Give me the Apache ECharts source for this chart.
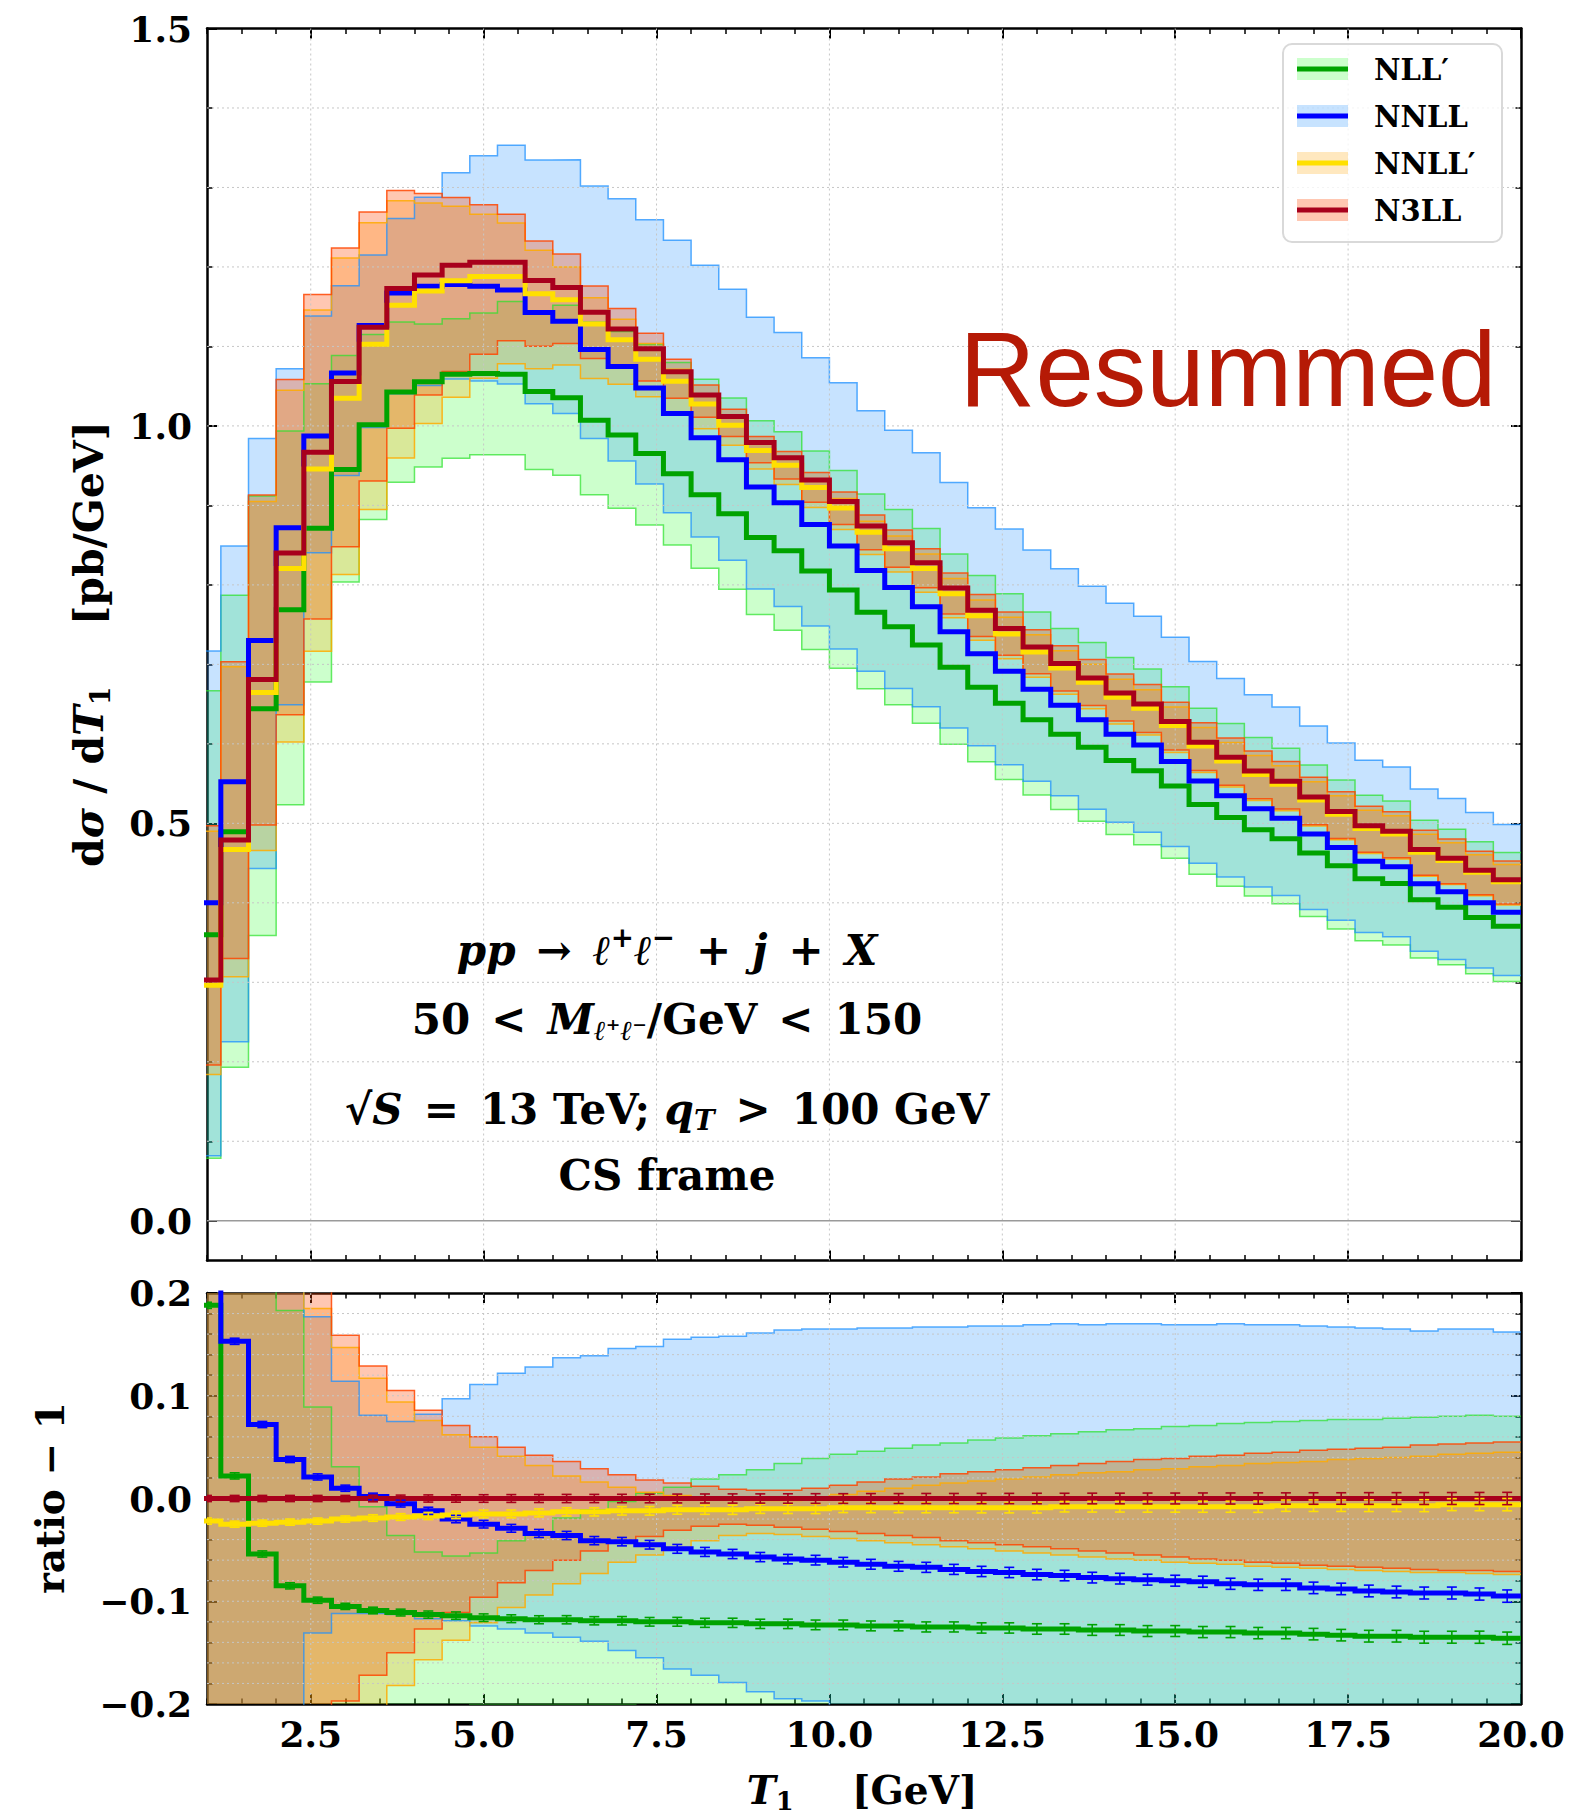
<!DOCTYPE html>
<html>
<head>
<meta charset="utf-8">
<title>Resummed T1 distribution</title>
<script src="https://cdn.jsdelivr.net/npm/echarts@6.0.0/dist/echarts.min.js"></script>
<style>
html,body{margin:0;padding:0;background:#ffffff;}
#chart{width:1573px;height:1820px;}
</style>
</head>
<body>
<div id="chart"></div>
<script>
// ================= DATA =================
// bin edges of the T1 histogram [GeV]
const binEdges = [0.8, 1.2, 1.6, 2.0, 2.4, 2.8, 3.2, 3.6, 4.0, 4.4, 4.8, 5.2, 5.6, 6.0, 6.4, 6.8,
  7.2, 7.6, 8.0, 8.4, 8.8, 9.2, 9.6, 10.0, 10.4, 10.8, 11.2, 11.6, 12.0, 12.4, 12.8, 13.2,
  13.6, 14.0, 14.4, 14.8, 15.2, 15.6, 16.0, 16.4, 16.8, 17.2, 17.6, 18.0, 18.4, 18.8, 19.2, 19.6, 20.0];

// N3LL central value dsigma/dT1 [pb/GeV] (reference of the ratio panel)
const n3llCentral = [0.303, 0.479, 0.681, 0.840, 0.967, 1.056, 1.124, 1.173, 1.190, 1.202,
  1.206, 1.206, 1.183, 1.174, 1.143, 1.122, 1.097, 1.068, 1.039, 1.012,
  0.979, 0.960, 0.932, 0.905, 0.874, 0.853, 0.828, 0.796, 0.768, 0.745,
  0.722, 0.701, 0.683, 0.664, 0.650, 0.628, 0.602, 0.583, 0.566, 0.553,
  0.533, 0.515, 0.497, 0.490, 0.467, 0.456, 0.441, 0.429];

// ratio - 1 (w.r.t. N3LL central), central values and band edges
const nllpRatio = [0.188, 0.022, -0.054, -0.085, -0.099, -0.105, -0.109, -0.111, -0.113, -0.114,
  -0.116, -0.117, -0.118, -0.118, -0.119, -0.119, -0.120, -0.120, -0.121, -0.121,
  -0.122, -0.122, -0.123, -0.123, -0.124, -0.124, -0.125, -0.125, -0.126, -0.126,
  -0.127, -0.127, -0.128, -0.128, -0.129, -0.129, -0.130, -0.130, -0.131, -0.131,
  -0.132, -0.133, -0.134, -0.134, -0.135, -0.135, -0.135, -0.136];
const nllpLo = [-0.740, -0.597, -0.473, -0.377, -0.299, -0.239, -0.215, -0.208, -0.203, -0.202,
  -0.201, -0.201, -0.201, -0.201, -0.201, -0.201, -0.202, -0.204, -0.210, -0.215,
  -0.221, -0.226, -0.229, -0.232, -0.234, -0.239, -0.244, -0.247, -0.248, -0.255,
  -0.258, -0.262, -0.264, -0.268, -0.272, -0.274, -0.276, -0.278, -0.278, -0.279,
  -0.282, -0.287, -0.291, -0.292, -0.292, -0.294, -0.295, -0.298];
const nllpHi = [1.201, 0.643, 0.339, 0.183, 0.089, 0.031, -0.008, -0.036, -0.052, -0.056,
  -0.053, -0.041, -0.035, -0.019, -0.011, -0.003, 0.005, 0.011, 0.019, 0.023,
  0.028, 0.034, 0.039, 0.043, 0.046, 0.049, 0.052, 0.054, 0.057, 0.059,
  0.061, 0.063, 0.065, 0.067, 0.068, 0.070, 0.071, 0.073, 0.074, 0.075,
  0.076, 0.077, 0.077, 0.078, 0.079, 0.080, 0.081, 0.080];

const nnllRatio = [0.320, 0.153, 0.072, 0.038, 0.021, 0.010, 0.002, -0.005, -0.012, -0.020,
  -0.025, -0.029, -0.034, -0.036, -0.041, -0.042, -0.045, -0.049, -0.052, -0.054,
  -0.057, -0.059, -0.060, -0.062, -0.064, -0.066, -0.067, -0.069, -0.071, -0.072,
  -0.074, -0.075, -0.077, -0.078, -0.079, -0.080, -0.081, -0.083, -0.084, -0.084,
  -0.087, -0.088, -0.090, -0.091, -0.092, -0.092, -0.093, -0.095];
const nnllLo = [-0.730, -0.530, -0.349, -0.227, -0.131, -0.112, -0.112, -0.113, -0.117, -0.119,
  -0.124, -0.127, -0.131, -0.135, -0.139, -0.148, -0.155, -0.166, -0.172, -0.179,
  -0.188, -0.195, -0.197, -0.205, -0.209, -0.215, -0.219, -0.221, -0.222, -0.230,
  -0.234, -0.237, -0.242, -0.245, -0.248, -0.250, -0.253, -0.258, -0.258, -0.260,
  -0.265, -0.266, -0.270, -0.271, -0.274, -0.279, -0.279, -0.281];
const nnllHi = [1.366, 0.772, 0.445, 0.276, 0.177, 0.114, 0.081, 0.075, 0.082, 0.097,
  0.111, 0.122, 0.128, 0.137, 0.139, 0.146, 0.148, 0.155, 0.157, 0.158,
  0.161, 0.164, 0.165, 0.165, 0.166, 0.166, 0.167, 0.167, 0.168, 0.168,
  0.169, 0.170, 0.169, 0.170, 0.170, 0.169, 0.169, 0.170, 0.169, 0.169,
  0.168, 0.167, 0.166, 0.165, 0.163, 0.165, 0.165, 0.162];

const nnllpRatio = [-0.022, -0.025, -0.024, -0.023, -0.022, -0.020, -0.019, -0.018, -0.017, -0.016,
  -0.015, -0.015, -0.014, -0.013, -0.013, -0.012, -0.012, -0.011, -0.011, -0.011,
  -0.010, -0.010, -0.010, -0.009, -0.009, -0.009, -0.009, -0.009, -0.009, -0.009,
  -0.009, -0.008, -0.008, -0.008, -0.008, -0.008, -0.008, -0.008, -0.008, -0.007,
  -0.007, -0.007, -0.007, -0.007, -0.007, -0.006, -0.006, -0.006];
const nnllpLo = [-0.393, -0.359, -0.316, -0.283, -0.259, -0.230, -0.204, -0.182, -0.157, -0.138,
  -0.121, -0.106, -0.094, -0.083, -0.073, -0.062, -0.055, -0.048, -0.041, -0.036,
  -0.034, -0.035, -0.037, -0.039, -0.041, -0.043, -0.045, -0.047, -0.049, -0.051,
  -0.053, -0.055, -0.057, -0.059, -0.060, -0.062, -0.063, -0.064, -0.066, -0.067,
  -0.068, -0.069, -0.070, -0.071, -0.072, -0.072, -0.073, -0.074];
const nnllpHi = [0.617, 0.455, 0.329, 0.244, 0.185, 0.147, 0.117, 0.094, 0.076, 0.062,
  0.050, 0.041, 0.032, 0.022, 0.016, 0.011, 0.006, 0.003, 0.000, -0.001,
  -0.002, -0.002, 0.000, 0.004, 0.007, 0.010, 0.013, 0.015, 0.017, 0.019,
  0.021, 0.023, 0.025, 0.026, 0.028, 0.029, 0.031, 0.032, 0.034, 0.035,
  0.036, 0.038, 0.039, 0.040, 0.041, 0.043, 0.044, 0.045];

const n3llLo = [-0.353, -0.311, -0.269, -0.242, -0.217, -0.197, -0.172, -0.150, -0.127, -0.111,
  -0.096, -0.082, -0.070, -0.060, -0.051, -0.043, -0.037, -0.031, -0.027, -0.025,
  -0.026, -0.028, -0.030, -0.032, -0.034, -0.036, -0.038, -0.041, -0.043, -0.045,
  -0.047, -0.049, -0.051, -0.053, -0.055, -0.057, -0.059, -0.060, -0.062, -0.063,
  -0.065, -0.066, -0.067, -0.068, -0.069, -0.070, -0.070, -0.071];
const n3llHi = [0.640, 0.468, 0.341, 0.260, 0.205, 0.159, 0.129, 0.105, 0.086, 0.071,
  0.060, 0.050, 0.042, 0.036, 0.029, 0.023, 0.018, 0.015, 0.012, 0.009,
  0.008, 0.008, 0.010, 0.013, 0.016, 0.019, 0.021, 0.024, 0.026, 0.028,
  0.030, 0.032, 0.034, 0.036, 0.038, 0.039, 0.041, 0.042, 0.044, 0.045,
  0.047, 0.048, 0.049, 0.050, 0.052, 0.053, 0.054, 0.055];

// statistical error bars in the ratio panel
const ratioErr = [0.003, 0.003, 0.003, 0.003, 0.003, 0.003, 0.0032, 0.0033, 0.0035, 0.0036,
  0.0037, 0.0038, 0.0039, 0.004, 0.004, 0.0041, 0.0042, 0.0043, 0.0044, 0.0045,
  0.0045, 0.0046, 0.0047, 0.0047, 0.0048, 0.0048, 0.0049, 0.0049, 0.005, 0.005,
  0.0051, 0.0051, 0.0052, 0.0052, 0.0053, 0.0053, 0.0054, 0.0054, 0.0055, 0.0055,
  0.0056, 0.0056, 0.0057, 0.0057, 0.0058, 0.0058, 0.0059, 0.006];

// axes / ticks
const X_RANGE = [1.0, 20.0];
const TOP_Y = [-0.05, 1.5];
const RAT_Y = [-0.2, 0.2];
const xMajorTicks = [2.5, 5.0, 7.5, 10.0, 12.5, 15.0, 17.5, 20.0];
const xGridLines = [2.5, 5.0, 7.5, 10.0, 12.5, 15.0, 17.5];
const topYMajor = [0.0, 0.5, 1.0, 1.5];
const topYMinor = [0.1, 0.2, 0.3, 0.4, 0.6, 0.7, 0.8, 0.9, 1.1, 1.2, 1.3, 1.4];
const topGridLines = [0.1, 0.2, 0.3, 0.4, 0.5, 0.6, 0.7, 0.8, 0.9, 1.0, 1.1, 1.2, 1.3, 1.4];
const ratYMajor = [-0.2, -0.1, 0.0, 0.1, 0.2];
const ratYMinor = [-0.18, -0.16, -0.14, -0.12, -0.08, -0.06, -0.04, -0.02, 0.02, 0.04, 0.06, 0.08, 0.12, 0.14, 0.16, 0.18];
const ratioGridLines = [-0.18, -0.16, -0.14, -0.12, -0.10, -0.08, -0.06, -0.04, -0.02, 0.0, 0.02, 0.04, 0.06, 0.08, 0.10, 0.12, 0.14, 0.16, 0.18];

// ================= STYLE =================
const SERIF = "'DejaVu Serif', 'Liberation Serif', serif";
const NB = n3llCentral.length;
const n3llRatio = n3llCentral.map(v => v / v - 1);
const TICK_FONT = 36;

const MODELS = [
  {name: 'NLL′',  c: nllpRatio,  lo: nllpLo,  hi: nllpHi,  line: '#00a300', fill: 'rgba(0,255,0,0.2)',    edge: 'rgba(40,225,40,0.7)'},
  {name: 'NNLL',  c: nnllRatio,  lo: nnllLo,  hi: nnllHi,  line: '#0000ff', fill: 'rgba(30,144,255,0.25)', edge: 'rgba(30,144,255,0.75)'},
  {name: 'NNLL′', c: nnllpRatio, lo: nnllpLo, hi: nnllpHi, line: '#ffe000', fill: 'rgba(255,165,0,0.25)',  edge: 'rgba(255,170,0,0.85)'},
  {name: 'N3LL',  c: n3llRatio,  lo: n3llLo,  hi: n3llHi,  line: '#a8001c', fill: 'rgba(255,69,0,0.3)',    edge: 'rgba(255,69,0,0.85)'}
];

function toTop(arr) { return arr.map((r, i) => n3llCentral[i] * (1 + r)); }
function fmt(v) { const s = Math.abs(v).toFixed(1); return (v < -1e-9 ? '−' : '') + s; }

// ================= AXES =================
const xAxes = [], yAxes = [];
function xAx(panel, position, major) {
  const ax = {
    type: 'value', gridIndex: panel, position, min: X_RANGE[0], max: X_RANGE[1],
    axisLine: {show: major, onZero: false, lineStyle: {color: '#000', width: 2.5}},
    splitLine: {show: false}, minorTick: {show: false}, minorSplitLine: {show: false},
    axisPointer: {show: false}
  };
  if (major) {
    ax.axisTick = {show: true, inside: true, length: 10, lineStyle: {color: '#000', width: 2}, customValues: xMajorTicks};
  } else {
    ax.interval = 0.5;
    ax.axisTick = {show: true, inside: true, length: 5.5, lineStyle: {color: '#000', width: 1.5}};
  }
  const lab = major && panel === 1 && position === 'bottom';
  ax.axisLabel = lab ? {show: true, customValues: xMajorTicks, formatter: v => v.toFixed(1), margin: 12,
    fontFamily: SERIF, fontWeight: 'bold', fontSize: TICK_FONT, color: '#000'} : {show: false};
  return ax;
}
function yAx(panel, position, major) {
  const ext = panel === 0 ? TOP_Y : RAT_Y;
  const ticks = panel === 0 ? (major ? topYMajor : topYMinor) : (major ? ratYMajor : ratYMinor);
  const ax = {
    type: 'value', gridIndex: panel, position, min: ext[0], max: ext[1],
    axisLine: {show: major, onZero: false, lineStyle: {color: '#000', width: 2.5}},
    splitLine: {show: false}, minorTick: {show: false}, minorSplitLine: {show: false},
    axisTick: {show: true, inside: true, length: major ? 10 : 5.5, lineStyle: {color: '#000', width: major ? 2 : 1.5}, customValues: ticks},
    axisPointer: {show: false}
  };
  const lab = major && position === 'left';
  ax.axisLabel = lab ? {show: true, customValues: ticks, formatter: fmt, margin: 15,
    fontFamily: SERIF, fontWeight: 'bold', fontSize: TICK_FONT, color: '#000'} : {show: false};
  return ax;
}
for (let p = 0; p < 2; p++) {
  xAxes.push(xAx(p, 'bottom', false), xAx(p, 'bottom', true), xAx(p, 'top', false), xAx(p, 'top', true));
  yAxes.push(yAx(p, 'left', true), yAx(p, 'left', false), yAx(p, 'right', true), yAx(p, 'right', false));
}

// ================= SERIES =================
const series = [];

function bandFill(panel, lo, hi, fill, z) {
  const ext = panel === 0 ? TOP_Y : RAT_Y;
  const data = [];
  for (let i = 0; i < NB; i++) data.push([binEdges[i], binEdges[i + 1], lo[i], hi[i]]);
  return {
    type: 'custom', xAxisIndex: panel * 4, yAxisIndex: panel * 4, z, silent: true, clip: true,
    encode: {x: [0, 1], y: [2, 3]}, data,
    renderItem(params, api) {
      if (params.dataIndexInside !== 0) return null;
      const n = params.dataInsideLength;
      const cl = v => Math.min(ext[1], Math.max(ext[0], v));
      const up = [], dn = [];
      for (let j = 0; j < n; j++) {
        const x0 = Math.max(X_RANGE[0], api.value(0, j)), x1 = Math.min(X_RANGE[1], api.value(1, j));
        const l = cl(api.value(2, j)), h = cl(api.value(3, j));
        up.push(api.coord([x0, h]), api.coord([x1, h]));
        dn.push(api.coord([x0, l]), api.coord([x1, l]));
      }
      dn.reverse();
      return {type: 'polygon', shape: {points: up.concat(dn)}, style: {fill, stroke: null}};
    }
  };
}
function stepLine(panel, vals, color, width, z) {
  const data = vals.map((v, i) => [binEdges[i], v]);
  data.push([binEdges[NB], vals[NB - 1]]);
  return {
    type: 'line', xAxisIndex: panel * 4, yAxisIndex: panel * 4, data, step: 'end',
    symbol: 'none', showSymbol: false, clip: true, silent: true, z,
    lineStyle: {color, width, join: 'miter', cap: 'butt'}, emphasis: {disabled: true}
  };
}
function errBars(panel, vals, errs, color, z) {
  const data = vals.map((v, i) => [(binEdges[i] + binEdges[i + 1]) / 2, v, errs[i]]);
  return {
    type: 'custom', xAxisIndex: panel * 4, yAxisIndex: panel * 4, z, silent: true, clip: true,
    encode: {x: 0, y: 1}, data,
    renderItem(params, api) {
      const x = api.value(0), y = api.value(1), e = api.value(2);
      const a = api.coord([x, y - e]), b = api.coord([x, y + e]);
      const w = 5, st = {stroke: color, lineWidth: 1.6};
      return {type: 'group', children: [
        {type: 'line', shape: {x1: a[0], y1: a[1], x2: b[0], y2: b[1]}, style: st},
        {type: 'line', shape: {x1: a[0] - w, y1: a[1], x2: a[0] + w, y2: a[1]}, style: st},
        {type: 'line', shape: {x1: b[0] - w, y1: b[1], x2: b[0] + w, y2: b[1]}, style: st}
      ]};
    }
  };
}
function gridSeries(panel, vals, dir, style, z) {
  const ext = panel === 0 ? TOP_Y : RAT_Y;
  const data = dir === 'h' ? vals.map(v => [X_RANGE[0], v]) : vals.map(v => [v, ext[0]]);
  return {
    type: 'custom', xAxisIndex: panel * 4, yAxisIndex: panel * 4, z, silent: true,
    encode: {x: 0, y: 1}, data,
    renderItem(params, api) {
      const cs = params.coordSys;
      if (dir === 'h') {
        const y = api.coord([api.value(0), api.value(1)])[1];
        return {type: 'line', shape: {x1: cs.x, y1: y, x2: cs.x + cs.width, y2: y}, style};
      }
      const x = api.coord([api.value(0), api.value(1)])[0];
      return {type: 'line', shape: {x1: x, y1: cs.y, x2: x, y2: cs.y + cs.height}, style};
    }
  };
}

const GRID_STYLE = {stroke: '#c6c6c6', lineWidth: 1, lineDash: [2, 3]};
for (let p = 0; p < 2; p++) {
  MODELS.forEach((m) => {
    const lo = p === 0 ? toTop(m.lo) : m.lo;
    const hi = p === 0 ? toTop(m.hi) : m.hi;
    series.push(bandFill(p, lo, hi, m.fill, 2));
    series.push(stepLine(p, lo, m.edge, 1.5, 2));
    series.push(stepLine(p, hi, m.edge, 1.5, 2));
  });
  series.push(gridSeries(p, xGridLines, 'v', GRID_STYLE, 3));
  series.push(gridSeries(p, p === 0 ? topGridLines : ratioGridLines, 'h', GRID_STYLE, 3));
  if (p === 0) series.push(gridSeries(0, [0.0], 'h', {stroke: '#9a9a9a', lineWidth: 1.4}, 3));
  MODELS.forEach((m) => {
    const c = p === 0 ? toTop(m.c) : m.c;
    series.push(stepLine(p, c, m.line, 5, 5));
  });
  if (p === 1) {
    MODELS.forEach((m) => series.push(errBars(1, m.c, ratioErr, m.line, 6)));
  }
}

// ================= TEXT / LEGEND (graphic) =================
function richSet(fs) {
  const base = {fontFamily: SERIF, fontWeight: 'bold', fill: '#000', verticalAlign: 'middle'};
  return {
    n: Object.assign({}, base, {fontSize: fs, lineHeight: fs * 1.25}),
    i: Object.assign({}, base, {fontSize: fs, fontStyle: 'italic', lineHeight: fs * 1.25}),
    s: Object.assign({}, base, {fontSize: fs * 0.66, padding: [fs * 0.55, 0, 0, 0]}),
    si: Object.assign({}, base, {fontSize: fs * 0.66, fontStyle: 'italic', padding: [fs * 0.55, 0, 0, 0]}),
    p: Object.assign({}, base, {fontSize: fs * 0.66, padding: [0, 0, fs * 0.6, 0]})
  };
}
function richText(x, y, text, fs, rot) {
  return {
    type: 'text', x, y, rotation: rot || 0, z: 100, silent: true,
    style: {text, rich: richSet(fs), align: 'center', verticalAlign: 'middle',
      textAlign: 'center', textVerticalAlign: 'middle',
      fontFamily: SERIF, fontWeight: 'bold', fontSize: fs, fill: '#000'}
  };
}

const SP = '\u2002';
const graphics = [];
// axis titles
graphics.push(richText(89, 644, '{n|d}{i|σ}{n| / d}{i|T}{s|1}{n|' + SP + SP + SP + '[pb/GeV]}', 41, Math.PI / 2));
graphics.push(richText(50, 1498, '{n|ratio − 1}', 39, Math.PI / 2));
graphics.push(richText(862, 1790, '{i|T}{s|1}{n|' + SP + SP + SP + '[GeV]}', 39, 0));
// process annotation
graphics.push(richText(667, 950, '{i|pp}{n|' + SP + '→' + SP + '}{i|ℓ}{p|+}{i|ℓ}{p|−}{n|' + SP + '+' + SP + '}{i|j}{n|' + SP + '+' + SP + '}{i|X}', 42, 0));
graphics.push(richText(667, 1019, '{n|50' + SP + '<' + SP + '}{i|M}{si|ℓ⁺ℓ⁻}{n|/GeV' + SP + '<' + SP + '150}', 42, 0));
graphics.push(richText(667, 1109, '{n|√}{i|S}{n|' + SP + '=' + SP + '13 TeV; }{i|q}{si|T}{n|' + SP + '>' + SP + '100 GeV}', 42, 0));
graphics.push(richText(667, 1175, '{n|CS frame}', 42, 0));
// big label
graphics.push({type: 'text', x: 1228, y: 369, z: 100, silent: true,
  style: {text: 'Resummed', fontFamily: "'Liberation Sans', Arial, sans-serif", fontSize: 105, fontWeight: 'normal',
    fill: '#b51a06', align: 'center', verticalAlign: 'middle', textAlign: 'center', textVerticalAlign: 'middle'}});
// legend
graphics.push({type: 'rect', z: 98, silent: true, shape: {x: 1283, y: 44, width: 219, height: 198, r: 9},
  style: {fill: 'rgba(255,255,255,0.8)', stroke: '#d9d9d9', lineWidth: 2}});
MODELS.forEach((m, k) => {
  const cy = 69 + k * 47;
  graphics.push({type: 'rect', z: 99, silent: true, shape: {x: 1297, y: cy - 11, width: 51, height: 22},
    style: {fill: m.fill}});
  graphics.push({type: 'line', z: 100, silent: true, shape: {x1: 1297, y1: cy, x2: 1348, y2: cy},
    style: {stroke: m.line, lineWidth: 5}});
  graphics.push({type: 'text', x: 1374, y: cy + 1, z: 100, silent: true,
    style: {text: m.name, fontFamily: SERIF, fontWeight: 'bold', fontSize: 29, fill: '#000',
      align: 'left', verticalAlign: 'middle', textAlign: 'left', textVerticalAlign: 'middle'}});
});

// ================= CHART =================
const chart = echarts.init(document.getElementById('chart'), null, {renderer: 'svg', width: 1573, height: 1820});
chart.setOption({
  animation: false,
  backgroundColor: '#ffffff',
  grid: [
    {left: 207, top: 28.5, width: 1314, height: 1232, containLabel: false, outerBoundsMode: 'none'},
    {left: 207, top: 1293, width: 1314, height: 411, containLabel: false, outerBoundsMode: 'none'}
  ],
  xAxis: xAxes,
  yAxis: yAxes,
  series,
  graphic: {elements: graphics}
});
</script>
</body>
</html>
